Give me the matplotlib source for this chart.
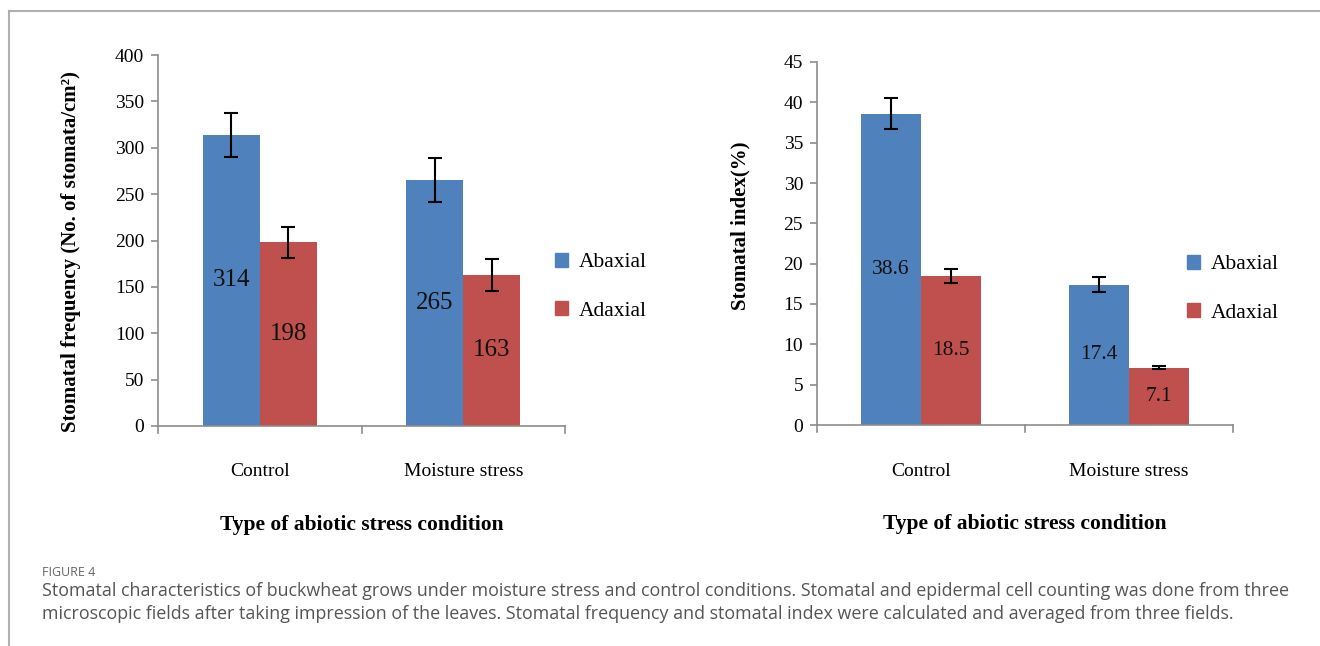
import matplotlib
matplotlib.use("Agg")
import matplotlib.pyplot as plt
import numpy as np
from matplotlib.lines import Line2D
from matplotlib.patches import Patch

categories = ["Control", "Moisture stress"]
series = ["Abaxial", "Adaxial"]

freq_abaxial = [314, 265]
freq_adaxial = [198, 163]
freq_err_abaxial = [24, 24]
freq_err_adaxial = [17, 17]
freq_labels_abaxial = ["314", "265"]
freq_labels_adaxial = ["198", "163"]

idx_abaxial = [38.6, 17.4]
idx_adaxial = [18.5, 7.1]
idx_err_abaxial = [1.9, 0.9]
idx_err_adaxial = [0.9, 0.2]
idx_labels_abaxial = ["38.6", "17.4"]
idx_labels_adaxial = ["18.5", "7.1"]

freq_ticks = [0, 50, 100, 150, 200, 250, 300, 350, 400]
idx_ticks = [0, 5, 10, 15, 20, 25, 30, 35, 40, 45]

BLUE = "#4F81BD"
RED = "#C0504D"
AXC = "#8c8c8c"
SERIF = ["Liberation Serif", "DejaVu Serif"]

fig = plt.figure(figsize=(13.2, 6.46), dpi=100)

# outer frame (top and left edges)
fig.add_artist(Line2D([9/1320, 1], [1-11/646, 1-11/646], color="#b0b0b0", lw=1.5))
fig.add_artist(Line2D([9/1320, 9/1320], [0, 1-11/646], color="#b0b0b0", lw=1.5))


def draw(ax, ab, ad, eab, ead, lab, lad, ticks, width, ylabel, lblsize, legx):
    x = np.arange(len(categories))
    ax.bar(x - width/2, ab, width, color=BLUE, yerr=eab, capsize=5,
           error_kw=dict(ecolor="black", elinewidth=1.5, capthick=1.5))
    ax.bar(x + width/2, ad, width, color=RED, yerr=ead, capsize=5,
           error_kw=dict(ecolor="black", elinewidth=1.5, capthick=1.5))
    for xi, v, t in zip(x - width/2, ab, lab):
        ax.text(xi, v/2, t, ha="center", va="center", fontsize=lblsize,
                family=SERIF, color="#111111")
    for xi, v, t in zip(x + width/2, ad, lad):
        ax.text(xi, v/2, t, ha="center", va="center", fontsize=lblsize,
                family=SERIF, color="#111111")
    ax.set_xlim(-0.5, len(categories) - 0.5)
    ax.set_ylim(ticks[0], ticks[-1])
    ax.set_yticks(ticks)
    ax.set_yticklabels([str(t) for t in ticks], family=SERIF, fontsize=14)
    ax.set_xticks(x)
    ax.set_xticklabels(categories, family=SERIF, fontsize=14)
    ax.tick_params(axis="x", length=0, pad=27)
    ax.tick_params(axis="y", length=5, color=AXC, width=1.2, pad=5)
    # boundary ticks on the category axis
    for b in np.arange(-0.5, len(categories), 1.0):
        ax.plot([b, b], [0, -0.018 * ticks[-1]], color=AXC, lw=1.2,
                clip_on=False)
    for s in ["top", "right"]:
        ax.spines[s].set_visible(False)
    for s in ["left", "bottom"]:
        ax.spines[s].set_color(AXC)
        ax.spines[s].set_linewidth(1.2)
    ax.set_ylabel(ylabel, family=SERIF, fontsize=15, weight="bold")
    ax.set_xlabel("Type of abiotic stress condition", family=SERIF,
                  fontsize=15.5, weight="bold", labelpad=25)
    handles = [Patch(color=BLUE), Patch(color=RED)]
    ax.legend(handles, series, loc="center left", bbox_to_anchor=(legx, 0.375),
              frameon=False, prop=dict(family=SERIF, size=15.5),
              handlelength=0.6, handleheight=0.6, handletextpad=0.5,
              labelspacing=1.35, borderpad=0, borderaxespad=0)


ax1 = fig.add_axes([158/1320, 1-426/646, 407/1320, 371/646])
draw(ax1, freq_abaxial, freq_adaxial, freq_err_abaxial, freq_err_adaxial,
     freq_labels_abaxial, freq_labels_adaxial, freq_ticks, 0.28,
     "Stomatal frequency (No. of stomata/cm²)", 18, 0.975)
ax1.yaxis.set_label_coords(-0.19, 0.47)

ax2 = fig.add_axes([817/1320, 1-425/646, 416/1320, 363/646])
draw(ax2, idx_abaxial, idx_adaxial, idx_err_abaxial, idx_err_adaxial,
     idx_labels_abaxial, idx_labels_adaxial, idx_ticks, 0.29,
     "Stomatal index(%)", 15.5, 0.89)
ax2.yaxis.set_label_coords(-0.16, 0.55)

# caption
fig.text(42/1320, 1-572/646, "FIGURE 4", fontsize=9, color="#666666",
         family=["Open Sans", "DejaVu Sans"], va="center")
cap1 = ("Stomatal characteristics of buckwheat grows under moisture stress and control conditions. "
        "Stomatal and epidermal cell counting was done from three")
cap2 = ("microscopic fields after taking impression of the leaves. Stomatal frequency and "
        "stomatal index were calculated and averaged from three fields.")
fig.text(42/1320, 1-591/646, cap1, fontsize=12.9, color="#555555",
         family=["Open Sans", "DejaVu Sans"], va="center")
fig.text(42/1320, 1-614/646, cap2, fontsize=12.9, color="#555555",
         family=["Open Sans", "DejaVu Sans"], va="center")

fig.savefig("out.png", dpi=100)
